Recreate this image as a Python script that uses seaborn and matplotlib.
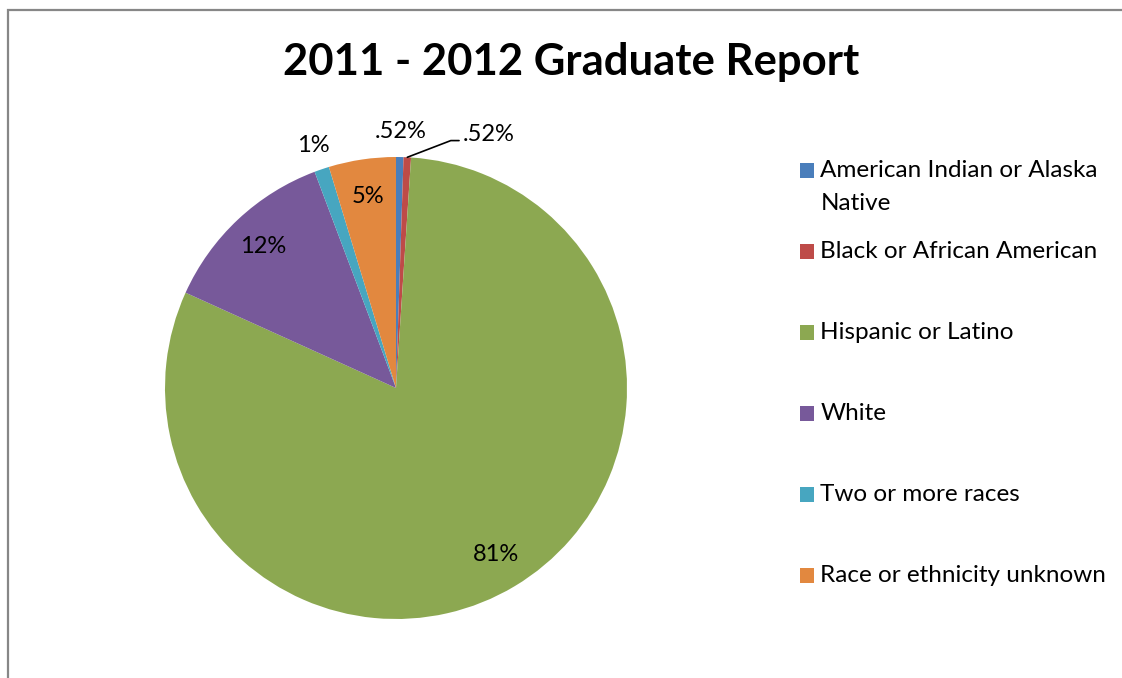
import textwrap
import numpy as np
import matplotlib
matplotlib.use("Agg")
import matplotlib.pyplot as plt
import seaborn as sns
from matplotlib.patches import Rectangle, Wedge
from matplotlib.legend_handler import HandlerPatch
from matplotlib.font_manager import FontProperties

# ---------------- data ----------------
title = "2011 - 2012 Graduate Report"
categories = [
    "American Indian or Alaska Native",
    "Black or African American",
    "Hispanic or Latino",
    "White",
    "Two or more races",
    "Race or ethnicity unknown",
]
shares = [0.52, 0.52, 80.73, 12.50, 1.04, 4.69]
pct_labels = [".52%", ".52%", "81%", "12%", "1%", "5%"]
colors = ["#4A7EBB", "#BE4B48", "#8CA851", "#77599A", "#47A6C0", "#E2883F"]

# ---------------- style ----------------
sns.set_theme(style="white")
plt.rcParams["font.family"] = ["Lato", "DejaVu Sans"]

W, H = 1122, 678
DPI = 100
fig = plt.figure(figsize=(W / DPI, H / DPI), dpi=DPI)
fig.patch.set_facecolor("white")
ax = fig.add_axes([0, 0, 1, 1])

cx, cy, R = 396, H - 388, 231
wedges, _ = ax.pie(
    shares,
    colors=sns.color_palette(colors),
    startangle=90,
    counterclock=False,
    center=(cx, cy),
    radius=R,
    wedgeprops=dict(linewidth=0),
    frame=True,
)
ax.set_xlim(0, W)
ax.set_ylim(0, H)
ax.set_aspect("equal")
ax.axis("off")

# ---------------- data labels ----------------
LBL_FS = 17
for i, (w, lab, s) in enumerate(zip(wedges, pct_labels, shares)):
    mid = np.deg2rad((w.theta1 + w.theta2) / 2)
    ux, uy = np.cos(mid), np.sin(mid)
    if s >= 3:
        d = 0.84 * R
        ax.text(cx + d * ux, cy + d * uy, lab, ha="center", va="center",
                fontsize=LBL_FS, color="black")
    elif i == 1:
        ax.annotate(
            lab, xy=(cx + R * ux, cy + R * uy), xytext=(55, 23),
            textcoords="offset pixels", ha="left", va="center",
            fontsize=LBL_FS, color="black",
            arrowprops=dict(arrowstyle="-", color="black", lw=1.2,
                            shrinkA=0, shrinkB=0, relpos=(0, 0.2),
                            connectionstyle="angle,angleA=0,angleB=21,rad=0"),
        )
    else:
        d = 1.11 * R
        ax.text(cx + d * ux, cy + d * uy, lab, ha="center", va="center",
                fontsize=LBL_FS, color="black")

# ---------------- title ----------------
fig.text(571 / W, 1 - 75 / H, title, ha="center", va="baseline",
         fontsize=31.4, fontweight="bold", color="black")

# ---------------- legend ----------------
LEG_FS = 17.5
renderer = fig.canvas.get_renderer()
fp = FontProperties(family=["Lato", "DejaVu Sans"], size=LEG_FS)
_, lp_h, lp_d = renderer.get_text_width_height_descent("lp", fp, ismath=False)
px2pt = 72.0 / DPI
asc_px = lp_h - lp_d
STEP_PX = 33.0     # distance between wrapped lines
PITCH_PX = 80.5    # distance between legend entries
linesp = STEP_PX / asc_px
labelspacing = (PITCH_PX - (lp_h + STEP_PX)) * px2pt / LEG_FS
handle_pt = 14 * px2pt


class TopAlignedHandler(HandlerPatch):
    """Put the colour square next to the first line of a two-line label."""

    def __init__(self, shift, **kw):
        super().__init__(**kw)
        self.shift = shift

    def create_artists(self, legend, orig_handle, xdescent, ydescent,
                       width, height, fontsize, trans):
        p = Rectangle((-xdescent, -ydescent + self.shift), width, height,
                      facecolor=orig_handle.get_facecolor(), edgecolor="none",
                      transform=trans)
        return [p]


leg_labels = []
for c in categories:
    t = textwrap.fill(c, 25)
    if "\n" not in t:
        t += "\n"
    leg_labels.append(t)

leg = ax.legend(
    wedges, leg_labels,
    loc="upper left",
    bbox_to_anchor=(800 / W, 1 - 160 / H),
    bbox_transform=fig.transFigure,
    frameon=False,
    fontsize=LEG_FS,
    borderpad=0, borderaxespad=0,
    handlelength=handle_pt / LEG_FS,
    handleheight=handle_pt / LEG_FS,
    handletextpad=6.5 * px2pt / LEG_FS,
    labelspacing=labelspacing,
    handler_map={Wedge: TopAlignedHandler(STEP_PX * px2pt / 2)},
)
texts = leg.get_texts()
for t in texts:
    t.set_linespacing(linesp)
    t.set_color("black")

# correct line spacing from the measured layout
fig.canvas.draw()
r = fig.canvas.get_renderer()
h2 = texts[3].get_window_extent(r).height
single = texts[3].get_window_extent(r).height
step_meas = h2 - lp_h
if step_meas > 1:
    for t in texts:
        t.set_linespacing(linesp * STEP_PX / step_meas)

# ---------------- chart-area border ----------------
fig.add_artist(Rectangle((7.5 / W, -0.2), 1.5, (1 - 9.5 / H) + 0.2,
                         transform=fig.transFigure, fill=False,
                         edgecolor="#878787", linewidth=1.6, clip_on=False))

fig.savefig("out.png", dpi=DPI, facecolor="white")
